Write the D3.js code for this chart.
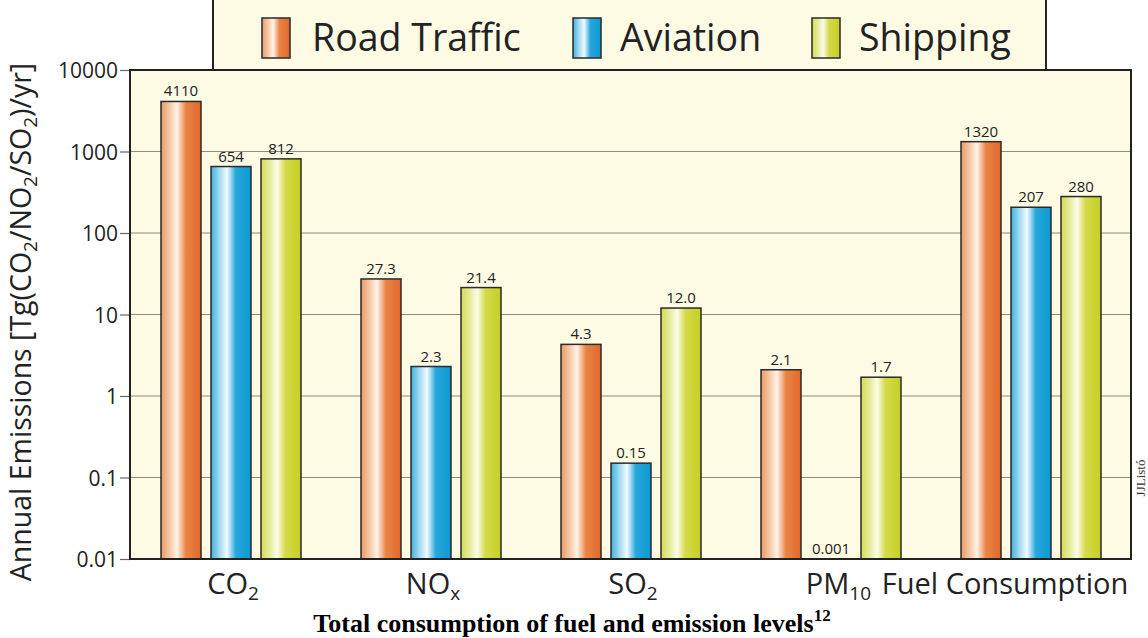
<!DOCTYPE html>
<html>
<head>
<meta charset="utf-8">
<script src="https://cdn.jsdelivr.net/npm/d3@7"></script>
<style>
  body { margin: 0; background: #fff; }
  svg { display: block; font-family: "Open Sans", sans-serif; }
</style>
</head>
<body>
<svg id="chart" width="1148" height="638"></svg>
<script>
// categories: main text + subscript
const categories = [["CO", "2"], ["NO", "x"], ["SO", "2"], ["PM", "10"], ["Fuel Consumption", ""]];
const seriesNames = ["Road Traffic", "Aviation", "Shipping"];
// values kept as printed on the chart
const roadTraffic = ["4110", "27.3", "4.3", "2.1", "1320"];
const aviation = ["654", "2.3", "0.15", "0.001", "207"];
const shipping = ["812", "21.4", "12.0", "1.7", "280"];
const yTicks = [0.01, 0.1, 1, 10, 100, 1000, 10000];

const seriesValues = [roadTraffic, aviation, shipping];
const gradColors = [
  ["#ec9a68", "#f6c9a6", "#fff4ea", "#ea8446", "#e1692a"],
  ["#3fb0de", "#a6dcf1", "#f2fbfe", "#27a7dc", "#0c99d2"],
  ["#d4db52", "#e6eb9c", "#fbfce9", "#d3da45", "#c6cf27"]
];

const svg = d3.select("#chart");
const plotL = 130, plotR = 1131, plotT = 70, plotB = 559;

const defs = svg.append("defs");
gradColors.forEach((c, i) => {
  const g = defs.append("linearGradient").attr("id", "grad" + i)
    .attr("x1", 0).attr("x2", 1).attr("y1", 0).attr("y2", 0);
  [0, 0.22, 0.4, 0.62, 1].forEach((o, k) => {
    g.append("stop").attr("offset", o).attr("stop-color", c[k]);
  });
});

const x0 = d3.scaleBand().domain(d3.range(categories.length)).range([plotL, plotR - 1]);
const x1 = d3.scaleBand().domain(d3.range(seriesNames.length)).range([31, 171]).paddingInner(0.2);
const y = d3.scaleLog().domain([0.01, 10000]).range([plotB, plotT]).clamp(true);

// legend box
svg.append("rect").attr("x", 213).attr("y", -3).attr("width", 833).attr("height", plotT + 3)
  .attr("fill", "#fdfbe3").attr("stroke", "#222").attr("stroke-width", 2);

// plot background
svg.append("rect").attr("x", plotL).attr("y", plotT).attr("width", plotR - plotL).attr("height", plotB - plotT)
  .attr("fill", "#fdfbe3");

// grid
svg.append("g").selectAll("line").data(yTicks.slice(1, -1)).join("line")
  .attr("x1", plotL).attr("x2", plotR).attr("y1", d => y(d)).attr("y2", d => y(d))
  .attr("stroke", "#8c8c80").attr("stroke-width", 1.2);

// y axis
const yAxis = d3.axisLeft(y).tickValues(yTicks).tickSize(10).tickPadding(2)
  .tickFormat(d => String(d));
const ya = svg.append("g").attr("transform", `translate(${plotL},0)`).call(yAxis);
ya.select(".domain").remove();
ya.selectAll(".tick line").attr("stroke", "#666").attr("stroke-width", 1.2);
ya.selectAll(".tick text").attr("font-size", 21).attr("fill", "#222")
  .attr("font-family", "Open Sans, sans-serif").attr("dy", "0.36em");

// bars
const groups = svg.append("g").selectAll("g").data(categories).join("g")
  .attr("transform", (d, i) => `translate(${x0(i)},0)`);

groups.each(function (cat, ci) {
  const g = d3.select(this);
  seriesValues.forEach((vals, si) => {
    const v = +vals[ci];
    const barTop = y(v);
    g.append("rect").attr("x", x1(si)).attr("y", barTop)
      .attr("width", x1.bandwidth()).attr("height", plotB - barTop)
      .attr("fill", `url(#grad${si})`).attr("stroke", "#2a2a2a").attr("stroke-width", 1.5);
    g.append("text").attr("x", x1(si) + x1.bandwidth() / 2).attr("y", barTop - 5)
      .attr("text-anchor", "middle").attr("font-size", 15).attr("fill", "#222")
      .text(vals[ci]);
  });
});

// plot frame
svg.append("path")
  .attr("d", `M${plotL},${plotT}H${plotR}V${plotB}H${plotL}Z`)
  .attr("fill", "none").attr("stroke", "#222").attr("stroke-width", 2);

// x labels
const xl = svg.append("g").selectAll("text").data(categories).join("text")
  .attr("x", (d, i) => {
    if (i === 3) return x0(i) + 141;
    if (i === 4) return x0(i) + 75;
    return x0(i) + x0.bandwidth() / 2 + 3;
  })
  .attr("y", 594)
  .attr("text-anchor", (d, i) => i === 3 ? "end" : "middle")
  .attr("font-size", 29).attr("fill", "#222");
xl.append("tspan").text(d => d[0]);
xl.append("tspan").attr("font-size", 19).attr("dy", 6).text(d => d[1]);

// y title
const yTitle = svg.append("text").attr("transform", "translate(31,322) rotate(-90)")
  .attr("text-anchor", "middle").attr("font-size", 28.5).attr("fill", "#222");
yTitle.append("tspan").text("Annual Emissions [Tg(CO");
yTitle.append("tspan").attr("font-size", 19).attr("dy", 6).text("2");
yTitle.append("tspan").attr("dy", -6).text("/NO");
yTitle.append("tspan").attr("font-size", 19).attr("dy", 6).text("2");
yTitle.append("tspan").attr("dy", -6).text("/SO");
yTitle.append("tspan").attr("font-size", 19).attr("dy", 6).text("2");
yTitle.append("tspan").attr("dy", -6).text(")/yr]");

// legend
const legendX = [262, 573, 812];
const lg = svg.append("g").selectAll("g").data(seriesNames).join("g")
  .attr("transform", (d, i) => `translate(${legendX[i]},18)`);
lg.append("rect").attr("width", 28).attr("height", 40)
  .attr("fill", (d, i) => `url(#grad${i})`).attr("stroke", "#2a2a2a").attr("stroke-width", 1.5);
lg.append("text").attr("x", (d, i) => i === 0 ? 50 : 47).attr("y", 33).attr("font-size", 37.5).attr("fill", "#222")
  .text(d => d);

// caption
const cap = svg.append("text").attr("x", 572).attr("y", 632).attr("text-anchor", "middle")
  .attr("font-family", "Liberation Serif, Times New Roman, serif").attr("font-weight", "bold")
  .attr("font-size", 26).attr("fill", "#000");
cap.append("tspan").text("Total consumption of fuel and emission levels");
cap.append("tspan").attr("font-size", 17).attr("dy", -11).text("12");

// credit
svg.append("text").attr("transform", "translate(1145,478) rotate(-90)")
  .attr("text-anchor", "middle").attr("font-family", "Liberation Serif, serif")
  .attr("font-size", 13).attr("fill", "#333").text("JJListó");
</script>
</body>
</html>
